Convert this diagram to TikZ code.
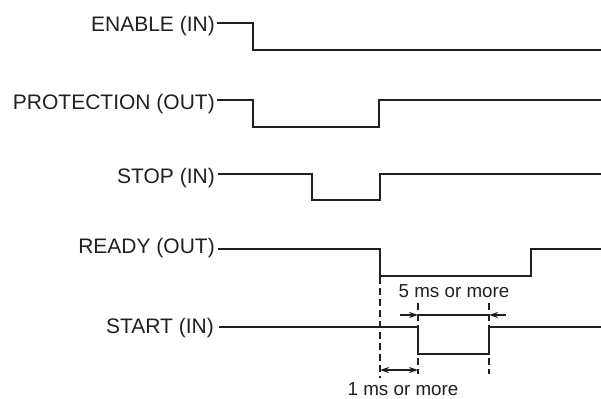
\documentclass[tikz,border=0pt]{standalone}
\usepackage{fontspec}
\setmainfont{Liberation Sans}
\usetikzlibrary{arrows.meta}
\definecolor{ink}{RGB}{35,31,32}
\begin{document}
\begin{tikzpicture}[x=1pt,y=-1pt,
  sig/.style={draw=ink,line width=2.6pt,line join=miter},
  lbl/.style={anchor=base east,inner sep=0pt,text=ink,font=\fontsize{21}{25}\selectfont},
  note/.style={anchor=base,inner sep=0pt,text=ink,font=\fontsize{18.8}{22}\selectfont},
  guide/.style={draw=ink,line width=1.2pt,dash pattern=on 7pt off 4pt},
  dim/.style={draw=ink,line width=1.2pt},
  tip/.style={-{Stealth[length=9pt,width=6pt]}}]
\useasboundingbox (0,0) rectangle (601,398);
% labels
\node[lbl] (en) at (215,31.7) {ENABLE (IN)};
\node[lbl] (pr) at (215,110) {PROTECTION (OUT)};
\node[lbl] (st) at (215,183) {STOP (IN)};
\node[lbl] (rd) at (215,253) {READY (OUT)};
\node[lbl] (sa) at (214,333) {START (IN)};
% waveforms
\draw[sig] (217,23) -- (253,23) -- (253,50) -- (601,50);
\draw[sig] (217,100) -- (253,100) -- (253,127) -- (379,127) -- (379,100) -- (601,100);
\draw[sig] (218,174) -- (312,174) -- (312,200) -- (380,200) -- (380,174) -- (601,174);
\draw[sig] (218,249) -- (380,249) -- (380,276) -- (531,276) -- (531,249) -- (601,249);
\draw[sig] (219,327) -- (418,327) -- (418,354) -- (489,354) -- (489,327) -- (601,327);
% guides
\coordinate (g1a) at (380,277); \coordinate (g1b) at (380,378);
\coordinate (g2a) at (418,303); \coordinate (g2b) at (418,374);
\coordinate (g3a) at (489,303); \coordinate (g3b) at (489,374);
\draw[guide] (g1a) -- (g1b);
\draw[guide] (g2a) -- (g2b);
\draw[guide] (g3a) -- (g3b);
% 5 ms dimension
\coordinate (d5l) at (400,315); \coordinate (d5a) at (418,315);
\coordinate (d5b) at (489,315); \coordinate (d5r) at (506,315);
\draw[dim] (d5a) -- (d5b);
\draw[dim,tip] (d5l) -- (d5a);
\draw[dim,tip] (d5r) -- (d5b);
\node[note] (t5) at (454,297) {5 ms or more};
% 1 ms dimension
\coordinate (d1a) at (380,370); \coordinate (d1b) at (418,370);
\draw[dim,{Stealth[length=9pt,width=6pt]}-{Stealth[length=9pt,width=6pt]}] (d1a) -- (d1b);
\node[note] (t1) at (403,395.5) {1 ms or more};
\end{tikzpicture}
\end{document}
